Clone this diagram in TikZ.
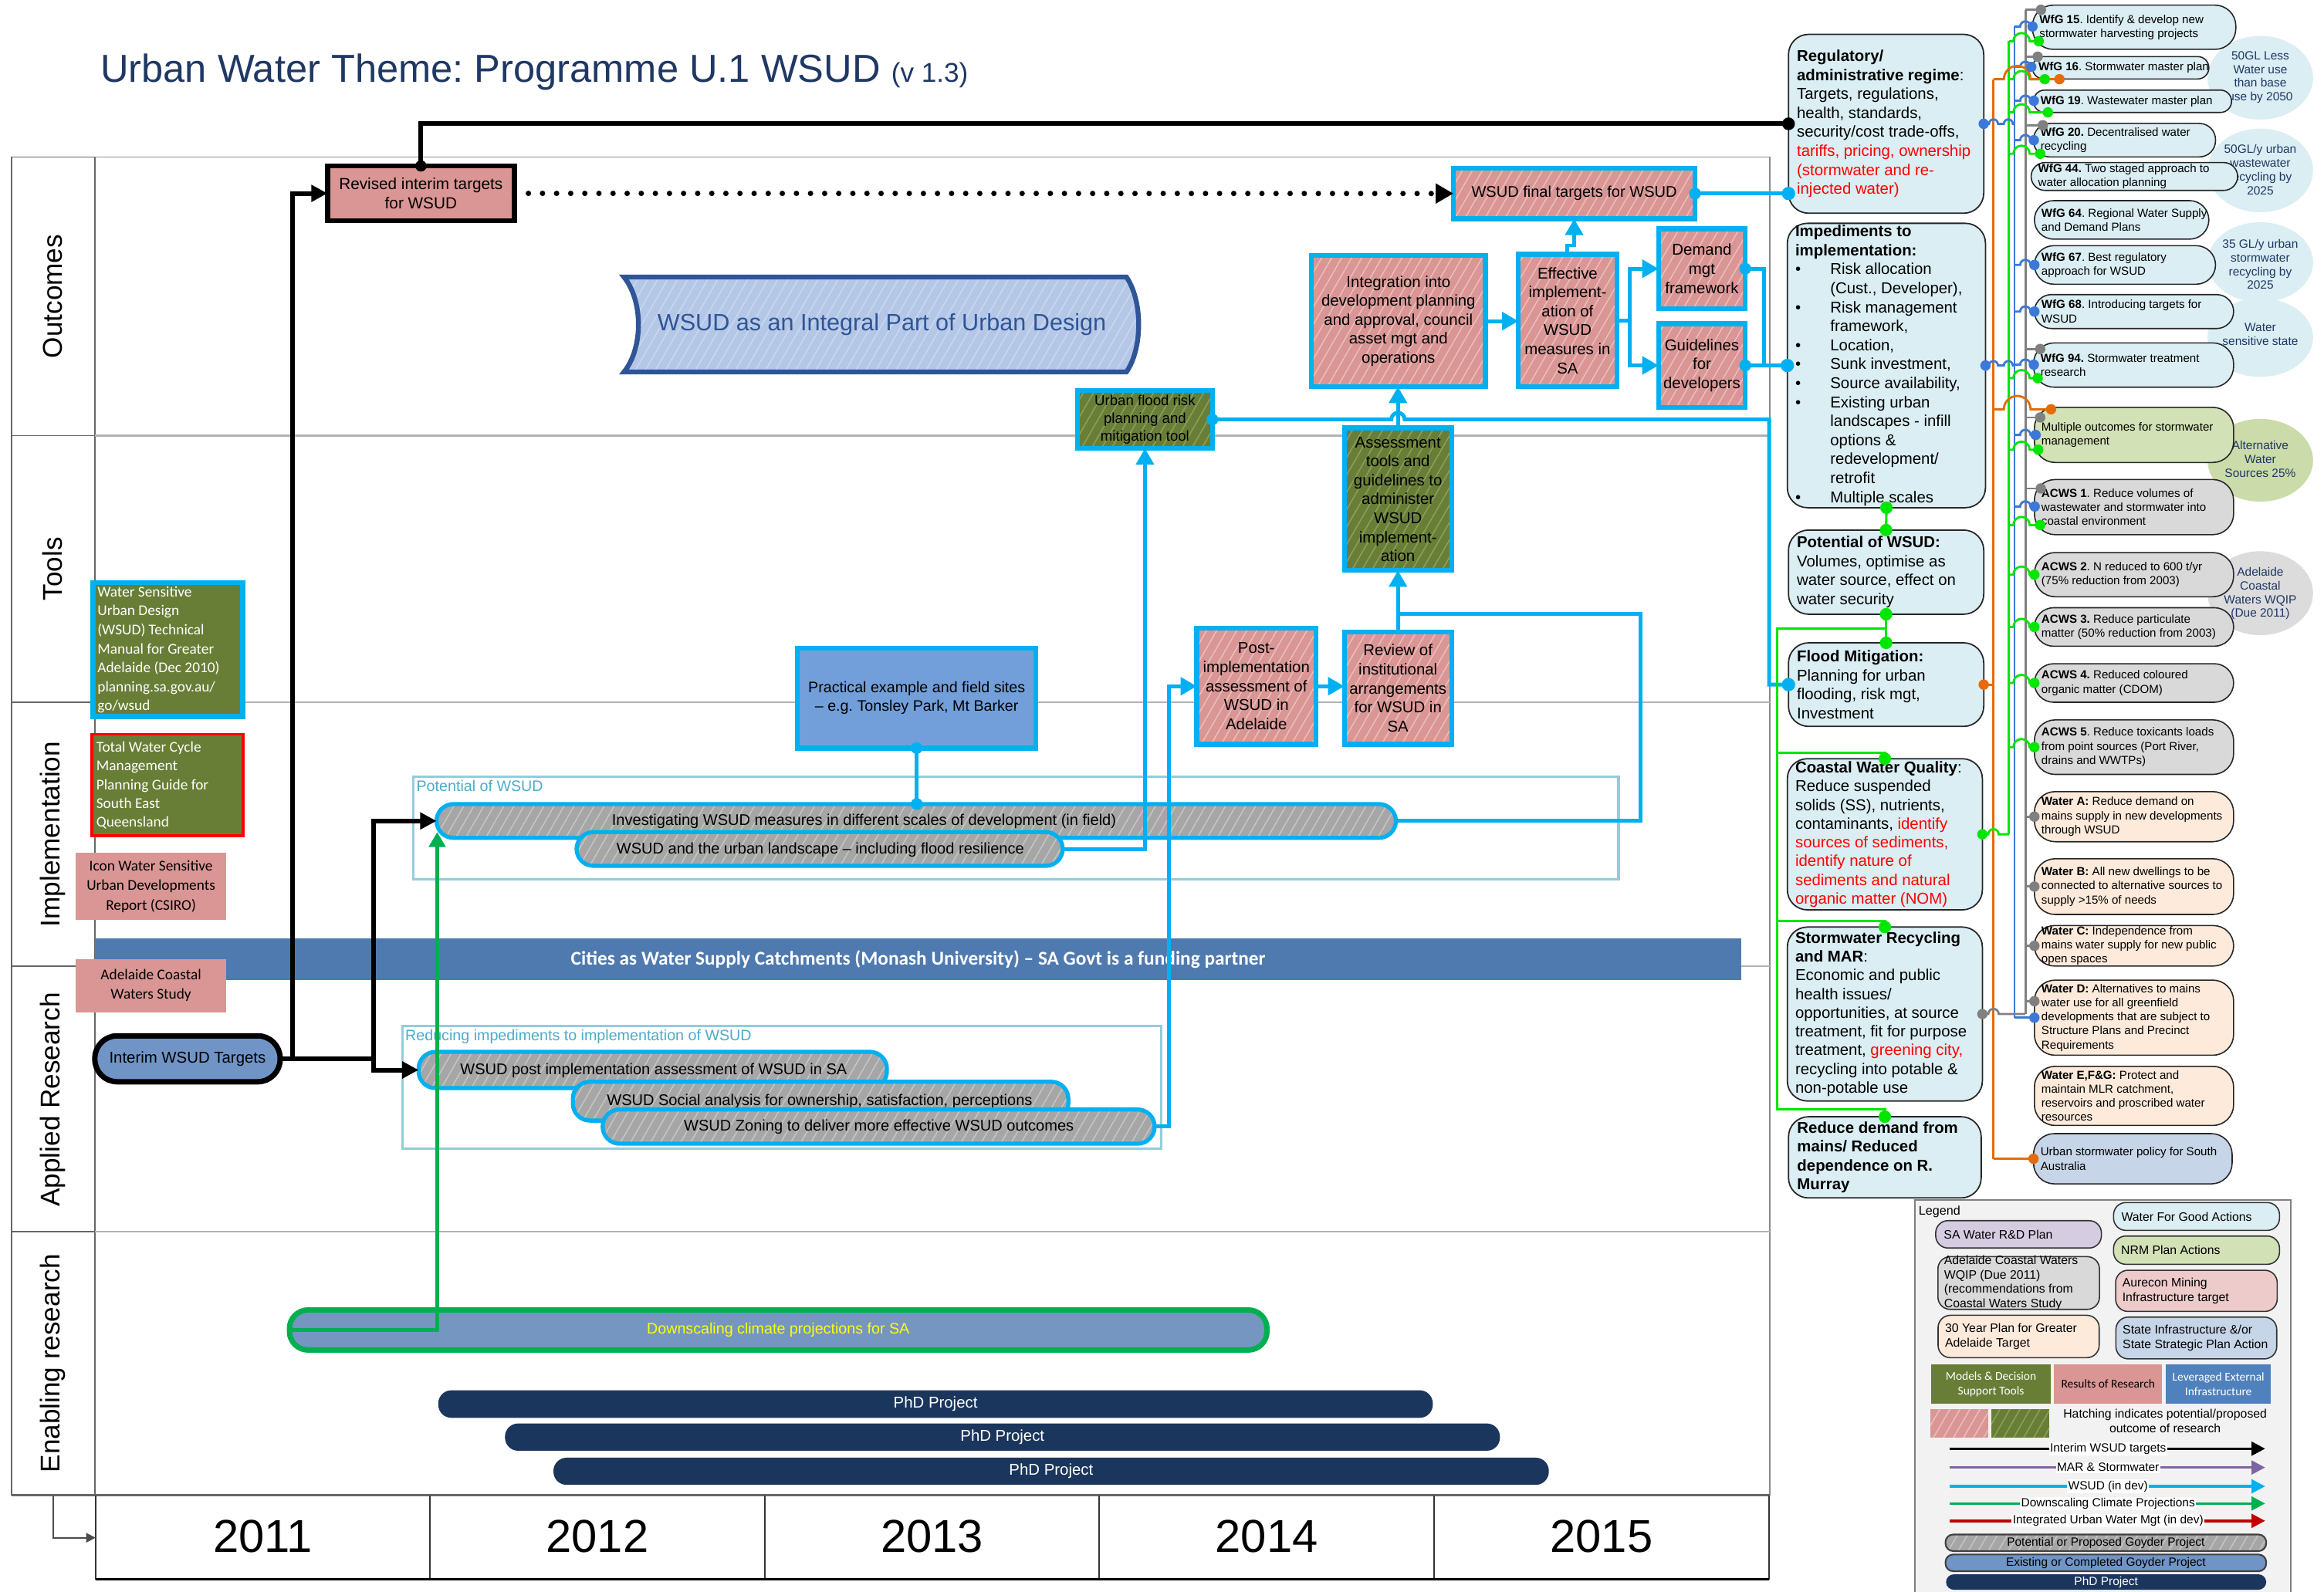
\documentclass[tikz,border=0pt]{standalone}
\usepackage{fontspec}
\setmainfont{Liberation Sans}
\newfontfamily\calib{Carlito}
\usetikzlibrary{arrows.meta,patterns.meta,calc}
\frenchspacing

\newdimen\Su \Su=0.19203mm
\newcommand\fsz[2]{\fontsize{#1}{#2}\selectfont}
% box given by two corners: style, name, x1, y1, x2, y2, text
\newcommand\mkbox[7]{\node[#1,minimum width={(#5-#3)*\Su},minimum height={(#6-#4)*\Su}] (#2) at ({(#3+#5)/2},{(#4+#6)/2}) {#7};}
% upward line jump centred on x at height y
\newcommand\hopat[3]{-- ({#1-#3},#2) arc[start angle=180,end angle=360,radius=#3]}
\newcommand\bulitem{\makebox[12.9pt][l]{\textbullet}}
\newcommand\bulind{\hspace*{12.9pt}}

\definecolor{cyanC}{HTML}{00B0F0}
\definecolor{cSalmon}{HTML}{D99694}
\definecolor{salmonH}{HTML}{E9BDBC}
\definecolor{cOlive}{HTML}{687E36}
\definecolor{oliveH}{HTML}{8B9E5C}
\definecolor{lightcy}{HTML}{DAEEF3}
\definecolor{pillgrey}{HTML}{A6A6A6}
\definecolor{greyH}{HTML}{C4C4C4}
\definecolor{midblue}{HTML}{7094C6}
\definecolor{pracblue}{HTML}{729FD9}
\definecolor{bandblue}{HTML}{4F7AB0}
\definecolor{levblue}{HTML}{4F81BD}
\definecolor{dsblue}{HTML}{7596C1}
\definecolor{cNavy}{HTML}{1B365D}
\definecolor{bannerfill}{HTML}{B4C7E7}
\definecolor{bannerH}{HTML}{C9D7EE}
\definecolor{bannerline}{HTML}{2F5597}
\definecolor{titleblue}{HTML}{1F3864}
\definecolor{gnC}{HTML}{00B050}
\definecolor{limeC}{HTML}{00E600}
\definecolor{blueC}{HTML}{3C78D8}
\definecolor{orangeC}{HTML}{E36C09}
\definecolor{greyC}{HTML}{808080}
\definecolor{nrmgreen}{HTML}{D3E1B6}
\definecolor{acwsgrey}{HTML}{D9D9D9}
\definecolor{peach}{HTML}{FDEADA}
\definecolor{polblue}{HTML}{C6D5E8}
\definecolor{lav}{HTML}{D6CCE2}
\definecolor{pinkL}{HTML}{EDCBCB}
\definecolor{contC}{HTML}{92CDDC}
\definecolor{contT}{HTML}{4BACC6}
\definecolor{purpleC}{HTML}{8064A2}
\definecolor{redC}{HTML}{C00000}
\definecolor{legbg}{HTML}{F2F2F2}
\definecolor{ellG}{HTML}{CBDBA9}
\definecolor{ellGr}{HTML}{DCDCDC}
\definecolor{yellowT}{HTML}{FFFF00}

\tikzset{
  hatch/.style 2 args={preaction={fill=#1},preaction={pattern={Lines[angle=60,distance=3.2pt,line width=.45pt]},pattern color=#2}},
  cbx/.style={draw=cyanC,line width=1.8pt,hatch={cSalmon}{salmonH},align=center,font=\fsz{5.8}{7}},
  gbx/.style={draw=cyanC,line width=1.8pt,hatch={cOlive}{oliveH},align=center,font=\fsz{5.8}{7}},
  pill/.style={draw=cyanC,line width=1.5pt,hatch={pillgrey}{greyH},rounded corners=2.2mm},
  ptxt/.style={font=\fsz{5.7}{6.6}},
  cont/.style={draw=contC,line width=0.9pt},
  cyl/.style={draw=cyanC,line width=1.4pt},
  cya/.style={cyl,-{Triangle[length=6pt,width=6.5pt]}},
  blk/.style={draw=black,line width=1.7pt},
  blka/.style={blk,-{Triangle[length=6pt,width=6pt]}},
  rbig/.style={draw=black!85,line width=0.5pt,fill=lightcy,rounded corners=2.6mm},
  rsm/.style={draw=black!85,line width=0.45pt},
  rtext/.style={anchor=west,align=left,font=\fsz{5.8}{7}},
  stext/.style={anchor=west,align=left,font=\fsz{4.3}{5.2}},
  etext/.style={align=center,text=titleblue,font=\fsz{4.4}{5.1}},
  orR/.style={draw=orangeC,line width=0.8pt},
  gnR/.style={draw=limeC,line width=0.8pt},
  blR/.style={draw=blueC,line width=0.8pt},
  grR/.style={draw=greyC,line width=0.8pt},
  limeL/.style={draw=limeC,line width=0.9pt},
  lane/.style={rotate=90,font=\fsz{10}{12}},
  lp/.style={draw=black!80,line width=0.45pt,rounded corners=1.6mm},
  ltext/.style={anchor=west,align=left,font=\fsz{4.5}{5.3}},
  larrow/.style={line width=1pt,-{Triangle[length=5pt,width=5pt]}},
  llab/.style={fill=white,inner sep=0.4pt,font=\fsz{4.4}{5}}
}

\begin{document}
\begin{tikzpicture}[x=0.19203mm,y=-0.19203mm,every node/.style={inner sep=0pt,outer sep=0pt,font=\fsz{5.8}{7}}]

\useasboundingbox (0,0) rectangle (1568,1074.3);
\fill[white] (0,0) rectangle (1568,1074.3);

% ---------- title ----------
\node[anchor=base west,text=titleblue,font=\fsz{14.4}{17}] (title) at (67.8,55.4) {Urban Water Theme: Programme U.1 WSUD {\fsz{10}{12}(v 1.3)}};

% ---------- swim lanes ----------
\draw[black!60,line width=0.5pt] (8,106) rectangle (64,1009);
\foreach \yy in {294,474,652,831} \draw[black!60,line width=0.5pt] (8,\yy) -- (64,\yy);
\draw[black!45,line width=0.5pt] (64,106) -- (1194,106) -- (1194,1009);
\foreach \yy in {294,474,652,831} \draw[black!30,line width=0.7pt] (64,\yy) -- (1194,\yy);
\draw[black!60,line width=0.7pt] (8,1009) -- (1194,1009);

\node[lane] (laneO) at (35.5,200) {Outcomes};
\node[lane] (laneT) at (35.5,384) {Tools};
\node[lane] (laneI) at (35.5,563) {Implementation};
\node[lane] (laneA) at (35.5,742) {Applied Research};
\node[lane] (laneE) at (35.5,920) {Enabling research};

% ---------- year axis ----------
\foreach \xx in {64.5,290,516,741.6,967.5,1193.5} \draw[black!80,line width=0.5pt] (\xx,1009) -- (\xx,1065.8);
\draw[black,line width=1pt] (64.5,1065.8) -- (1193.5,1065.8);
\node[font=\fsz{17}{20}] (y11) at (177.3,1037) {2011};
\node[font=\fsz{17}{20}] (y12) at (403,1037) {2012};
\node[font=\fsz{17}{20}] (y13) at (628.8,1037) {2013};
\node[font=\fsz{17}{20}] (y14) at (854.6,1037) {2014};
\node[font=\fsz{17}{20}] (y15) at (1080.5,1037) {2015};
\coordinate (tAx) at (36,1009);
\coordinate (tAy) at (64.5,1037.7);
\draw[black!70,line width=0.6pt,-{Triangle[length=3.5pt,width=3.5pt]}] (tAx) |- (tAy);

% ---------- project groups ----------
\mkbox{cont}{potC}{278.8}{524}{1092}{593.5}{}
\node[anchor=north west,text=contT,font=\fsz{5.6}{6.5}] (potCL) at (281,526.5) {Potential of WSUD};
\mkbox{cont}{redImp}{271.4}{692.5}{783.3}{775.2}{}
\node[anchor=north west,text=contT,font=\fsz{5.6}{6.5}] (redImpL) at (273.5,695) {Reducing impediments to implementation of WSUD};

% ---------- external infrastructure band ----------
\mkbox{fill=bandblue}{cities}{64}{633}{1175}{661.5}{}
\node[text=white,font=\fsz{7.2}{8.5}\calib\bfseries] (citiesT) at (619.5,647.5) {Cities as Water Supply Catchments (Monash University) – SA Govt is a funding partner};

% ---------- research pills ----------
\mkbox{pill}{inv}{294.5}{542.6}{941.8}{565.4}{}
\node[ptxt] (invT) at (583,554.5) {Investigating WSUD measures in different scales of development (in field)};
\mkbox{pill}{land}{389}{561.5}{717}{584.3}{}
\node[ptxt] (landT) at (553.5,573.5) {WSUD and the urban landscape – including flood resilience};
\mkbox{pill}{wpost}{282.4}{709.8}{598.4}{734.3}{}
\node[ptxt] (wpostT) at (441,722.5) {WSUD post implementation assessment of WSUD in SA};
\mkbox{pill}{wsoc}{386.5}{730}{720.8}{756.2}{}
\node[ptxt] (wsocT) at (553,743.5) {WSUD Social analysis for ownership, satisfaction, perceptions};
\mkbox{pill}{wzon}{406.6}{748.7}{779}{771.8}{}
\node[ptxt] (wzonT) at (593,760.5) {WSUD Zoning to deliver more effective WSUD outcomes};

% ---------- tools and reports on the left ----------
\mkbox{draw=cyanC,line width=1.8pt,fill=cOlive}{wsudman}{62.8}{393}{163.7}{483.5}{}
\node[anchor=west,align=left,text=white,font=\fsz{5.5}{7}\calib] (wsudmanT) at (65.8,438.5) {Water Sensitive\\Urban Design\\(WSUD) Technical\\Manual for Greater\\Adelaide (Dec 2010)\\planning.sa.gov.au/\\go/wsud};
\mkbox{draw=red,line width=1pt,fill=cOlive}{twcm}{62}{495.5}{164}{564}{}
\node[anchor=west,align=left,text=white,font=\fsz{5.5}{6.9}\calib] (twcmT) at (65,530) {Total Water Cycle\\Management\\Planning Guide for\\South East\\Queensland};
\mkbox{fill=cSalmon,align=center,font=\fsz{5.5}{7.2}\calib}{icon}{51}{575.4}{152.7}{621}{Icon Water Sensitive\\Urban Developments\\Report (CSIRO)}
\mkbox{fill=cSalmon,align=center,font=\fsz{5.5}{7.2}\calib}{acws}{51}{647.2}{152.7}{683}{Adelaide Coastal\\Waters Study}
\mkbox{draw=black,line width=2pt,fill=midblue,rounded corners=2.9mm,font=\fsz{5.8}{7}}{interim}{64}{699}{189}{730}{Interim WSUD Targets}

% ---------- banner ----------
\path[draw=bannerline,line width=1.8pt,hatch={bannerfill}{bannerH}] (421,187) -- (760,187) .. controls (771,203) and (771,235) .. (760,251) -- (421,251) .. controls (434,235) and (434,203) .. (421,187) -- cycle;
\node[text=bannerline,font=\fsz{8.7}{10}] (banner) at (595,219) {WSUD as an Integral Part of Urban Design};

% ---------- outcome and tool boxes ----------
\mkbox{draw=black,line width=1.9pt,fill=cSalmon,align=center,font=\fsz{5.9}{7}}{revised}{221}{112}{347}{149}{Revised interim targets\\for WSUD}
\mkbox{cbx,font=\fsz{5.7}{7}}{final}{980.6}{113.5}{1143.6}{147.7}{WSUD final targets for WSUD}
\mkbox{cbx}{integ}{884.8}{172.4}{1002.2}{261}{Integration into\\development planning\\and approval, council\\asset mgt and\\operations}
\mkbox{cbx}{eff}{1024.4}{171.6}{1090.8}{261}{Effective\\implement-\\ation of\\WSUD\\measures in\\SA}
\mkbox{cbx}{dmg}{1119}{154.4}{1177.5}{208.3}{Demand\\mgt\\framework}
\mkbox{cbx}{guide}{1119}{218.4}{1177.5}{274.8}{Guidelines\\for\\developers}
\mkbox{gbx,font=\fsz{5.3}{6.6}}{uflood}{727}{263.5}{818}{302.6}{Urban flood risk\\planning and\\mitigation tool}
\mkbox{gbx}{assess}{907}{288.8}{979.4}{385}{Assessment\\tools and\\guidelines to\\administer\\WSUD\\implement-\\ation}
\mkbox{cbx}{post}{807.5}{424}{887.8}{502.2}{Post-\\implementation\\assessment of\\WSUD in\\Adelaide}
\mkbox{cbx}{review}{907}{426.6}{979.4}{502.2}{Review of\\institutional\\arrangements\\for WSUD in\\SA}
\mkbox{draw=cyanC,line width=1.8pt,fill=pracblue,align=center,font=\fsz{5.6}{7}}{prac}{538}{437.3}{699}{504.8}{Practical example and field sites\\– e.g. Tonsley Park, Mt Barker}

% ---------- enabling research ----------
\mkbox{draw=gnC,line width=2pt,fill=dsblue,rounded corners=2.4mm,text=yellowT,font=\fsz{5.6}{7}}{ds}{195.3}{884}{854.8}{911}{Downscaling climate projections for SA}
\mkbox{fill=cNavy,rounded corners=1.7mm,text=white,font=\fsz{5.8}{7}}{phd1}{295.7}{938.2}{966.7}{956.8}{PhD Project}
\mkbox{fill=cNavy,rounded corners=1.7mm,text=white,font=\fsz{5.8}{7}}{phd2}{340.7}{960.6}{1012}{979}{PhD Project}
\mkbox{fill=cNavy,rounded corners=1.7mm,text=white,font=\fsz{5.8}{7}}{phd3}{373.4}{983.7}{1045}{1002}{PhD Project}

% ---------- target ellipses ----------
\fill[lightcy] (1525,52.5) ellipse[x radius=35.6,y radius=28.2];
\node[etext] (e1) at (1525,52.2) {50GL Less\\Water use\\than base\\use by 2050};
\fill[lightcy] (1525,115) ellipse[x radius=35.6,y radius=28.2];
\node[etext] (e2) at (1525,114.4) {50GL/y urban\\wastewater\\recycling by\\2025};
\fill[lightcy] (1525,177) ellipse[x radius=35.6,y radius=27];
\node[etext] (e3) at (1525,178.4) {35 GL/y urban\\stormwater\\recycling by\\2025};
\fill[lightcy] (1525,227.8) ellipse[x radius=35.6,y radius=26.5];
\node[etext] (e4) at (1525,225.7) {Water\\sensitive state};
\fill[ellG] (1525,310.6) ellipse[x radius=35.6,y radius=27.9];
\node[etext] (e5) at (1525,310) {Alternative\\Water\\Sources 25\%};
\fill[ellGr] (1525,400.3) ellipse[x radius=35.6,y radius=28.3];
\node[etext] (e6) at (1525,400.5) {Adelaide\\Coastal\\Waters WQIP\\(Due 2011)};

% ---------- policy context boxes ----------
\mkbox{rbig}{reg}{1206.7}{23.2}{1338.4}{143.9}{}
\node[rtext] (regT) at ([xshift=3.1pt]reg.west) {\textbf{Regulatory/}\\\textbf{administrative regime}:\\Targets, regulations,\\health, standards,\\security/cost trade-offs,\\\color{red}tariffs, pricing, ownership\\\color{red}(stormwater and re-\\\color{red}injected water)};
\mkbox{rbig}{imp}{1205.9}{150.7}{1339.6}{342.6}{}
\node[rtext] (impT) at ([xshift=2.95pt]imp.west) {\textbf{Impediments to}\\\textbf{implementation:}\\\bulitem Risk allocation\\\bulind(Cust., Developer),\\\bulitem Risk management\\\bulind framework,\\\bulitem Location,\\\bulitem Sunk investment,\\\bulitem Source availability,\\\bulitem Existing urban\\\bulind landscapes - infill\\\bulind options \&\\\bulind redevelopment/\\\bulind retrofit\\\bulitem Multiple scales};
\mkbox{rbig}{pot}{1206.7}{357.7}{1338.4}{414.5}{}
\node[rtext] (potT) at ([xshift=3.1pt]pot.west) {\textbf{Potential of WSUD:}\\Volumes, optimise as\\water source, effect on\\water security};
\mkbox{rbig}{fm}{1206.7}{433.8}{1338.4}{490.2}{}
\node[rtext] (fmT) at ([xshift=3.1pt]fm.west) {\textbf{Flood Mitigation:}\\Planning for urban\\flooding, risk mgt,\\Investment};
\mkbox{rbig}{cwq}{1205.9}{512}{1337.5}{614}{}
\node[rtext,font=\fsz{5.8}{6.9}] (cwqT) at ([xshift=2.95pt]cwq.west) {\textbf{Coastal Water Quality}:\\Reduce suspended\\solids (SS), nutrients,\\contaminants, \textcolor{red}{identify}\\\color{red}sources of sediments,\\\color{red}identify nature of\\\color{red}sediments and natural\\\color{red}organic matter (NOM)};
\mkbox{rbig}{swr}{1205.9}{625.6}{1337.5}{743}{}
\node[rtext,font=\fsz{5.8}{6.9}] (swrT) at ([xshift=2.95pt]swr.west) {\textbf{Stormwater Recycling}\\\textbf{and MAR}:\\Economic and public\\health issues/\\opportunities, at source\\treatment, fit for purpose\\treatment, \textcolor{red}{greening city,}\\recycling into potable \&\\non-potable use};
\mkbox{rbig}{rdm}{1206.7}{753.6}{1336.7}{808.4}{}
\node[rtext] (rdmT) at ([xshift=3.2pt]rdm.west) {\textbf{Reduce demand from}\\\textbf{mains/ Reduced}\\\textbf{dependence on R.}\\\textbf{Murray}};

% ---------- plan actions and targets ----------
\mkbox{rsm,fill=lightcy,rounded corners=2.69mm}{w15}{1371.3}{3.5}{1508.5}{33.3}{}
\node[stext] (w15T) at ([xshift=2.6pt]w15.west) {\textbf{WfG 15}. Identify \& develop new\\stormwater harvesting projects};
\mkbox{rsm,fill=lightcy,rounded corners=1.44mm}{w16}{1371.3}{38.2}{1490.3}{53.3}{}
\node[stext] (w16T) at ([xshift=2.2pt]w16.west) {\textbf{WfG 16}. Stormwater master plan};
\mkbox{rsm,fill=lightcy,rounded corners=1.44mm}{w19}{1372}{60.8}{1505.6}{75.9}{}
\node[stext] (w19T) at ([xshift=2.6pt]w19.west) {\textbf{WfG 19}. Wastewater master plan};
\mkbox{rsm,fill=lightcy,rounded corners=2.1mm}{w20}{1372}{83.3}{1494.8}{105.9}{}
\node[stext] (w20T) at ([xshift=2.6pt]w20.west) {\textbf{WfG 20.} Decentralised water\\recycling};
\mkbox{rsm,fill=lightcy,rounded corners=1.8mm}{w44}{1370.4}{109.7}{1509.7}{128.5}{}
\node[stext] (w44T) at ([xshift=2.6pt]w44.west) {\textbf{WfG 44.} Two staged approach to\\water allocation planning};
\mkbox{rsm,fill=lightcy,rounded corners=2.5mm}{w64}{1372.6}{135.4}{1490.3}{161.4}{}
\node[stext] (w64T) at ([xshift=2.6pt]w64.west) {\textbf{WfG 64}. Regional Water Supply\\and Demand Plans};
\mkbox{rsm,fill=lightcy,rounded corners=2.5mm}{w67}{1372.6}{165.8}{1494.8}{191.8}{}
\node[stext] (w67T) at ([xshift=2.6pt]w67.west) {\textbf{WfG 67}. Best regulatory\\approach for WSUD};
\mkbox{rsm,fill=lightcy,rounded corners=2.2mm}{w68}{1372.6}{198.8}{1507}{221.7}{}
\node[stext] (w68T) at ([xshift=2.6pt]w68.west) {\textbf{WfG 68}. Introducing targets for\\WSUD};
\mkbox{rsm,fill=lightcy,rounded corners=2.69mm}{w94}{1372}{231.4}{1507}{261.3}{}
\node[stext] (w94T) at ([xshift=2.6pt]w94.west) {\textbf{WfG 94.} Stormwater treatment\\research};
\mkbox{rsm,fill=nrmgreen,rounded corners=2.69mm}{mult}{1372.6}{274.9}{1507}{312.1}{}
\node[stext] (multT) at ([xshift=2.6pt]mult.west) {Multiple outcomes for stormwater\\management};
\mkbox{rsm,fill=acwsgrey,rounded corners=2.69mm}{a1}{1372.6}{323.6}{1507}{360.8}{}
\node[stext] (a1T) at ([xshift=2.6pt]a1.west) {\textbf{ACWS 1}. Reduce volumes of\\wastewater and stormwater into\\coastal environment};
\mkbox{rsm,fill=acwsgrey,rounded corners=2.69mm}{a2}{1372.6}{372.9}{1507}{402.7}{}
\node[stext] (a2T) at ([xshift=2.6pt]a2.west) {\textbf{ACWS 2}. N reduced to 600 t/yr\\(75\% reduction from 2003)};
\mkbox{rsm,fill=acwsgrey,rounded corners=2.5mm}{a3}{1372.6}{410.1}{1507}{436.1}{}
\node[stext] (a3T) at ([xshift=2.6pt]a3.west) {\textbf{ACWS 3.} Reduce particulate\\matter (50\% reduction from 2003)};
\mkbox{rsm,fill=acwsgrey,rounded corners=2.5mm}{a4}{1372.6}{447.9}{1507}{473.9}{}
\node[stext] (a4T) at ([xshift=2.6pt]a4.west) {\textbf{ACWS 4.} Reduced coloured\\organic matter (CDOM)};
\mkbox{rsm,fill=acwsgrey,rounded corners=2.69mm}{a5}{1372.6}{485.8}{1507}{522.6}{}
\node[stext] (a5T) at ([xshift=2.6pt]a5.west) {\textbf{ACWS 5}. Reduce toxicants loads\\from point sources (Port River,\\drains and WWTPs)};
\mkbox{rsm,fill=peach,rounded corners=2.69mm}{wa}{1372.6}{534.2}{1507}{568}{}
\node[stext] (waT) at ([xshift=2.6pt]wa.west) {\textbf{Water A:} Reduce demand on\\mains supply in new developments\\through WSUD};
\mkbox{rsm,fill=peach,rounded corners=2.69mm}{wb}{1372.6}{579.5}{1507}{617.1}{}
\node[stext] (wbT) at ([xshift=2.6pt]wb.west) {\textbf{Water B:} All new dwellings to be\\connected to alternative sources to\\supply >15\% of needs};
\mkbox{rsm,fill=peach,rounded corners=2.6mm}{wc}{1372.6}{624.6}{1507}{651.9}{}
\node[stext] (wcT) at ([xshift=2.6pt]wc.west) {\textbf{Water C:} Independence from\\mains water supply for new public\\open spaces};
\mkbox{rsm,fill=peach,rounded corners=2.69mm}{wd}{1372.6}{661.4}{1507}{712.1}{}
\node[stext] (wdT) at ([xshift=2.6pt]wd.west) {\textbf{Water D:} Alternatives to mains\\water use for all greenfield\\developments that are subject to\\Structure Plans and Precinct\\Requirements};
\mkbox{rsm,fill=peach,rounded corners=2.69mm}{we}{1372.6}{719.6}{1507}{759.5}{}
\node[stext] (weT) at ([xshift=2.6pt]we.west) {\textbf{Water E,F\&G:} Protect and\\maintain MLR catchment,\\reservoirs and proscribed water\\resources};
\mkbox{rsm,fill=polblue,rounded corners=2.69mm}{pol}{1372}{765}{1506}{798.9}{}
\node[stext] (polT) at ([xshift=2.6pt]pol.west) {Urban stormwater policy for South\\Australia};

% ---------- legend ----------
\mkbox{draw=black!50,line width=0.6pt,fill=legbg}{legend}{1292}{810}{1545.4}{1085}{}
\node[anchor=west,font=\fsz{4.6}{5.5}] (legT) at (1294.5,817.5) {Legend};
\mkbox{lp,fill=lav}{lgSA}{1306}{823.7}{1417.8}{842.2}{}
\node[ltext] (lgSAT) at ([xshift=3pt]lgSA.west) {SA Water R\&D Plan};
\mkbox{lp,fill=acwsgrey}{lgAC}{1307.5}{848}{1416.5}{883.6}{}
\node[ltext] (lgACT) at ([xshift=2.3pt]lgAC.west) {Adelaide Coastal Waters\\WQIP (Due 2011)\\(recommendations from\\Coastal Waters Study};
\mkbox{lp,fill=peach}{lg30}{1307.6}{887.6}{1416.3}{916.2}{}
\node[ltext] (lg30T) at ([xshift=2.6pt]lg30.west) {30 Year Plan for Greater\\Adelaide Target};
\mkbox{lp,fill=lightcy}{lgWG}{1426}{811.5}{1538}{830.3}{}
\node[ltext] (lgWGT) at ([xshift=2.9pt]lgWG.west) {Water For Good Actions};
\mkbox{lp,fill=nrmgreen}{lgNR}{1426}{834.1}{1538}{853.2}{}
\node[ltext] (lgNRT) at ([xshift=2.8pt]lgNR.west) {NRM Plan Actions};
\mkbox{lp,fill=pinkL}{lgAU}{1427.4}{857.2}{1536.4}{885}{}
\node[ltext] (lgAUT) at ([xshift=2.5pt]lgAU.west) {Aurecon Mining\\Infrastructure target};
\mkbox{lp,fill=polblue}{lgST}{1427.6}{888.8}{1536.1}{917}{}
\node[ltext] (lgSTT) at ([xshift=2.5pt]lgST.west) {State Infrastructure \&/or\\State Strategic Plan Action};
\mkbox{fill=cOlive,text=white,align=center,font=\fsz{4.4}{5.4}\calib}{lgMod}{1303}{920.6}{1383.6}{947.3}{Models \& Decision\\Support Tools}
\mkbox{fill=cSalmon,align=center,font=\fsz{4.4}{5.4}\calib}{lgRes}{1385.9}{920.6}{1458.7}{947.3}{Results of Research}
\mkbox{fill=levblue,text=white,align=center,font=\fsz{4.4}{5.4}\calib}{lgLev}{1461.3}{920.6}{1532.2}{947.3}{Leveraged External\\Infrastructure}
\mkbox{hatch={cSalmon}{salmonH}}{lgHS}{1302.6}{951}{1341.3}{970}{}
\mkbox{hatch={cOlive}{oliveH}}{lgHG}{1343.6}{951}{1382.6}{970}{}
\node[align=center,font=\fsz{4.5}{5.4}] (lgHT) at (1460.8,959) {Hatching indicates potential/proposed\\outcome of research};
\coordinate (la1) at (1315.3,977.6); \coordinate (lb1) at (1528.3,977.6);
\coordinate (la2) at (1315.3,990.3); \coordinate (lb2) at (1528.3,990.3);
\coordinate (la3) at (1315.3,1003); \coordinate (lb3) at (1528.3,1003);
\coordinate (la4) at (1315.3,1014.6); \coordinate (lb4) at (1528.3,1014.6);
\coordinate (la5) at (1315.3,1026.3); \coordinate (lb5) at (1528.3,1026.3);
\draw[larrow,black] (la1) -- (lb1);
\draw[larrow,purpleC] (la2) -- (lb2);
\draw[larrow,cyanC] (la3) -- (lb3);
\draw[larrow,gnC] (la4) -- (lb4);
\draw[larrow,redC] (la5) -- (lb5);
\node[llab] (ll1) at (1422.3,977.6) {Interim WSUD targets};
\node[llab] (ll2) at (1422.3,990.3) {MAR \& Stormwater};
\node[llab] (ll3) at (1422.3,1003) {WSUD (in dev)};
\node[llab] (ll4) at (1422.3,1014.6) {Downscaling Climate Projections};
\node[llab] (ll5) at (1422.3,1026.3) {Integrated Urban Water Mgt (in dev)};
\mkbox{draw=black!75,line width=0.6pt,rounded corners=1mm,hatch={pillgrey}{greyH},font=\fsz{4.4}{5}}{lgPot}{1312.6}{1035.5}{1529}{1046.7}{Potential or Proposed Goyder Project}
\mkbox{draw=black!75,line width=0.6pt,rounded corners=1mm,fill=midblue,font=\fsz{4.4}{5}}{lgEx}{1312.6}{1049}{1529}{1060.3}{Existing or Completed Goyder Project}
\mkbox{fill=cNavy,rounded corners=1mm,text=white,font=\fsz{4.4}{5}}{lgPhd}{1313}{1062.4}{1529}{1072.8}{PhD Project}

% ---------- interim targets connectors (black) ----------
\coordinate (jA) at (197.4,714.5);
\coordinate (jB) at (252,714.5);
\draw[blka] (interim.east) -- (jA) |- (revised.west);
\draw[blk] (jA) -- (jB);
\draw[blka] (jB) |- (inv.west);
\draw[blka] (jB) |- (wpost.west);
\draw[blk] (revised.north) |- (reg.west);
\fill (revised.north) circle[radius=3.8];
\fill (reg.west) circle[radius=4.3];
\draw[line width=2pt,dash pattern=on 0pt off 5.2pt,line cap=round,-{Triangle[length=6.5pt,width=7pt]}] (revised.east) -- (final.west);

% ---------- WSUD connectors (cyan) ----------
\draw[cya] (integ.east) -- (integ.east -| eff.west);
\draw[cya] (eff.north) -- ++(0,-6) -| (final.south);
\coordinate (jE) at (1099.5,216.3);
\draw[cyl] (eff.east) -- (jE);
\draw[cya] (jE) |- (dmg.west);
\draw[cya] (jE) |- (guide.west);
\draw[cya] (assess.north) -- (assess.north |- integ.south);
\draw[cya] (review.north) -- (assess.south);
\coordinate (jI) at (1106.7,414.2);
\draw[cyl] (inv.east) -| (jI) -- (jI -| review.north);
\draw[cya] (post.east) -- (post.east -| review.west);
\coordinate (jZ) at (788.5,760.25);
\draw[cya] (wzon.east) -- (jZ) |- (post.west);
\draw[cya] (land.east) -| (uflood.south);
\draw[cyl] (prac.south) -- (prac.south |- inv.north);
\draw[cyl] (uflood.east) \hopat{943.2}{283.05}{4.5} -- (1193.6,283.05) |- (fm.west);
\draw[cyl] (final.east) -- (final.east -| reg.west);
\coordinate (jD) at (1190,181.35);
\draw[cyl] (dmg.east) -- (jD) |- (imp.west);
\draw[cyl] (guide.east) -- (imp.west);
\foreach \p in {prac.south,uflood.east,final.east,dmg.east,guide.east}
  \fill[cyanC] (\p) circle[radius=4];
\fill[cyanC] (prac.south |- inv.north) circle[radius=4];
\fill[cyanC] (final.east -| reg.west) circle[radius=4.5];
\fill[cyanC] (imp.west) circle[radius=4.5];
\fill[cyanC] (fm.west) circle[radius=4.5];

% ---------- downscaling connector (green) ----------
\coordinate (jG) at (295,897.5);
\draw[gnC,line width=1.4pt,-{Triangle[length=5.5pt,width=6pt]}] (ds.west) -- (jG) -- ($(inv.west)+(0.5,7.5)$);

% ---------- links between policy boxes ----------
\coordinate (gTop) at ($(pot.south)!0.5!(fm.north)$);
\coordinate (gBot) at (1199.2,748.5);
\coordinate (gC) at (1199.2,508);
\coordinate (gS) at (1199.2,621.5);
\draw[limeL] (imp.south) -- (pot.north);
\draw[limeL] (pot.south) -- (fm.north);
\draw[limeL] (gTop) -- (gTop -| gBot) -- (gBot) -| (rdm.north);
\draw[limeL] (gC) -| (cwq.north);
\draw[limeL] (gS) -| (swr.north);
\foreach \p in {imp.south,pot.north,pot.south,fm.north,cwq.north,swr.north,rdm.north}
  \fill[limeC] (\p) circle[radius=4.2];

% ---------- buses to plan actions ----------
\coordinate (busO) at (1345,0);
\coordinate (busG) at (1355.4,0);
\coordinate (busB) at (1359.2,0);
\coordinate (busR) at (1366.5,0);

\coordinate (w15r) at ($(w15.west)+(5.7,-11.8)$);
\coordinate (w15b) at ($(w15.west)+(0,-0.5)$);
\coordinate (w15g) at ($(w15.west)+(4.2,9.4)$);
\coordinate (w16r) at ($(w16.west)+(3.5,-7.5)$);
\coordinate (w16b) at ($(w16.west)+(-0.8,-0.6)$);
\coordinate (w16g) at ($(w16.west)+(8.3,7.7)$);
\coordinate (w16o) at ($(w16.west)+(18.2,7.7)$);
\coordinate (w19b) at ($(w19.west)+(0.2,-0.35)$);
\coordinate (w19g) at ($(w19.west)+(9.7,7.5)$);
\coordinate (w20r) at ($(w20.west)+(6.3,-10.1)$);
\coordinate (w20b) at ($(w20.west)+(0.2,0)$);
\coordinate (w20g) at ($(w20.west)+(4.5,9.2)$);
\coordinate (w94r) at ($(w94.west)+(4.5,-10.85)$);
\coordinate (w94b) at ($(w94.west)+(0.2,-0.25)$);
\coordinate (w94g) at ($(w94.west)+(2.8,8.85)$);
\coordinate (mulo) at ($(mult.west)+(11.2,-17.3)$);
\coordinate (mulr) at ($(mult.west)+(3.9,-11.8)$);
\coordinate (mulb) at ($(mult.west)+(0.8,0)$);
\coordinate (mulg) at ($(mult.west)+(2.6,10)$);
\coordinate (a1r) at ($(a1.west)+(4.3,-12.6)$);
\coordinate (a1b) at ($(a1.west)+(0.2,-0.4)$);
\coordinate (a1g) at ($(a1.west)+(3.9,12.1)$);
\coordinate (wdr) at ($(wd.west)+(0,-11.1)$);

% bus trunks
\draw[grR] (w15r -| busR) -- (swr.east -| busR);
\draw[blR] (w15b -| busB) -- (wd.west -| busB);
\draw[gnR] (w15g -| busG) -- (cwq.east -| busG);
\draw[orR] (w16o -| busO) -- (pol.west -| busO);

% grey branches
\foreach \p in {w15r,w16r,w20r,w94r,mulr,a1r,wa.west,wb.west,wc.west,wdr}
  \draw[grR] (\p -| busR) -- (\p);
\draw[grR] (swr.east) -- ++(4,0) arc[start angle=180,end angle=360,radius=3.5] -- (swr.east -| busR);
% blue branches
\foreach \p in {w15b,w16b,w19b,w20b,w67.west,w68.west,w94b,mulb,a1b}
  \draw[blR] (\p -| busB) -- ++(3.8,0) arc[start angle=180,end angle=360,radius=3.5] -- (\p);
\draw[blR] (wd.west -| busB) -- (wd.west);
\draw[blR] (reg.east) -- ++(3.6,0) arc[start angle=180,end angle=360,radius=3] -- ++(4,0) arc[start angle=180,end angle=360,radius=3] -- (reg.east -| busB);
\draw[blR] (imp.east) -- ++(2.4,0) arc[start angle=180,end angle=360,radius=3] -- ++(4,0) arc[start angle=180,end angle=360,radius=3] -- (imp.east -| busB);
% green branches
\foreach \p in {w15g,w16g,w19g,w20g,w94g,mulg,a1g,a2.west,a3.west,a4.west,a5.west}
  \draw[gnR] (\p -| busG) -- ++(3,0) arc[start angle=180,end angle=360,radius=5.5] -- (\p);
\draw[gnR] (cwq.east) -- ++(4,0) arc[start angle=180,end angle=360,radius=3.5] -- (cwq.east -| busG);
% orange branches
\foreach \p in {w16o,mulo}
  \draw[orR] (\p -| busO) -- ++(7,0) arc[start angle=180,end angle=360,radius=9] -- (\p);
\draw[orR] (fm.east) -- (fm.east -| busO);
\draw[orR] (pol.west -| busO) -- (pol.west);

% branch end dots
\foreach \p in {w15r,w16r,w20r,w94r,mulr,a1r,wa.west,wb.west,wc.west,wdr,swr.east}
  \fill[greyC] (\p) circle[radius=3.5];
\foreach \p in {w15b,w16b,w19b,w20b,w67.west,w68.west,w94b,mulb,a1b,wd.west,reg.east,imp.east}
  \fill[blueC] (\p) circle[radius=3.5];
\foreach \p in {w15g,w16g,w19g,w20g,w94g,mulg,a1g,a2.west,a3.west,a4.west,a5.west,cwq.east}
  \fill[limeC] (\p) circle[radius=3.5];
\foreach \p in {w16o,mulo,fm.east,pol.west}
  \fill[orangeC] (\p) circle[radius=3.5];

\end{tikzpicture}
\end{document}
